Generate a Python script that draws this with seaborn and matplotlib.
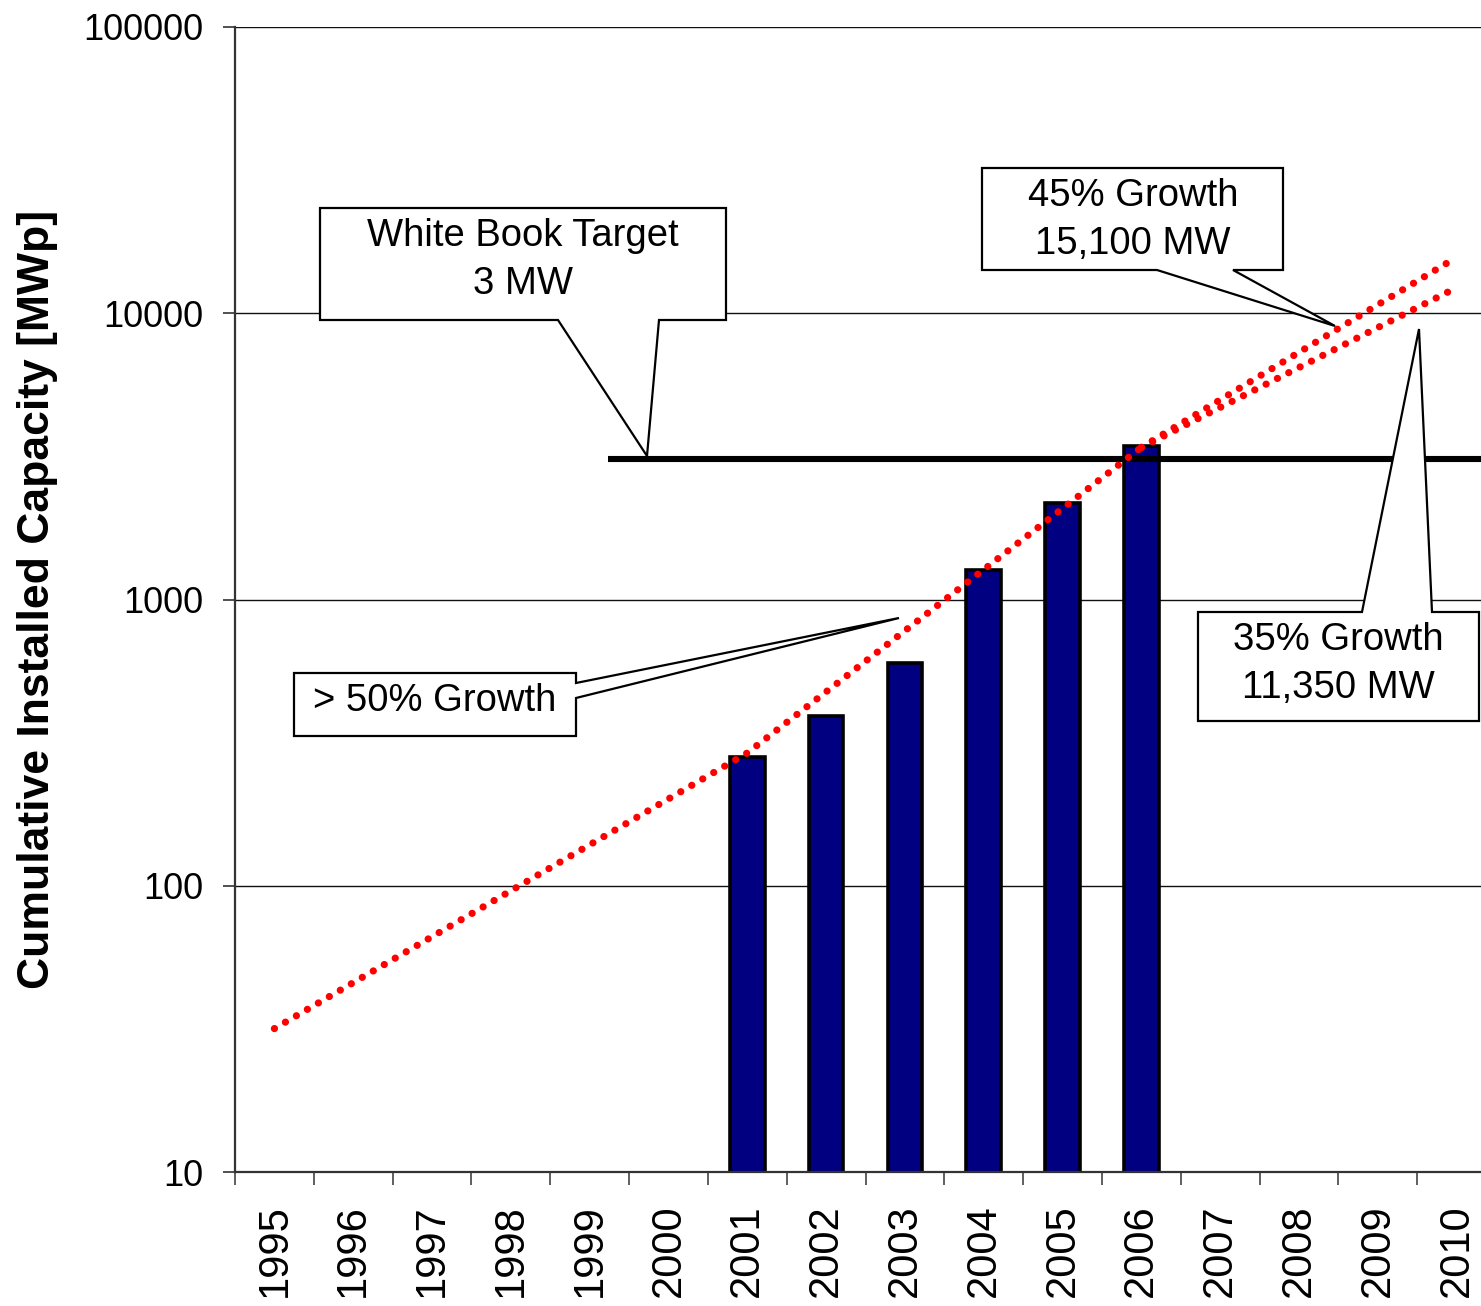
import numpy as np
import pandas as pd
import matplotlib
matplotlib.use("Agg")
import matplotlib.pyplot as plt
from matplotlib.patches import Polygon
from matplotlib.ticker import FixedLocator, NullLocator, FixedFormatter
import seaborn as sns

# ---------------- data ----------------
years = [str(y) for y in range(1995, 2011)]
bar_years = ["2001", "2002", "2003", "2004", "2005", "2006"]
bar_values = [281, 392, 600, 1267, 2170, 3435]

target_value = 3100          # White Book target line
target_start_year = 1999.23  # where the drawn target line starts

trend_years = [1995, 2001, 2006]          # "> 50% Growth" dotted line
trend_values = [31.7, 291, 3400]
g45_years = [2006, 2009.9]                # 45% growth scenario
g45_values = [3400, 15100]
g35_years = [2006, 2009.9]                # 35% growth scenario
g35_values = [3400, 11900]

y_ticks = [10, 100, 1000, 10000, 100000]
y_tick_labels = ["10", "100", "1000", "10000", "100000"]
y_label = "Cumulative Installed Capacity [MWp]"

callout_texts = ["White Book Target\n3 MW", "45% Growth\n15,100 MW",
                 "35% Growth\n11,350 MW", "> 50% Growth"]

# ---------------- style ----------------
sns.set_theme(style="white")
plt.rcParams["font.family"] = ["Liberation Sans", "DejaVu Sans"]
plt.rcParams["text.color"] = "black"
plt.rcParams["axes.labelcolor"] = "black"
plt.rcParams["xtick.color"] = "black"
plt.rcParams["ytick.color"] = "black"

W, H = 1481, 1306
fig = plt.figure(figsize=(W / 100, H / 100), dpi=100)
ax = fig.add_axes([235 / W, 1 - 1172 / H, 1261 / W, 1145 / H])

navy = "#000080"
df = pd.DataFrame({"year": bar_years, "value": bar_values})
ax.set_yscale("log")
sns.barplot(data=df, x="year", y="value", order=years, color=navy,
            saturation=1, width=0.44, edgecolor="black", linewidth=2.6,
            ax=ax, zorder=2)

ax.set_xlim(-0.5, len(years) - 0.5)
ax.set_ylim(10, 100000)

# y axis
ax.yaxis.set_major_locator(FixedLocator(y_ticks))
ax.yaxis.set_major_formatter(FixedFormatter(y_tick_labels))
ax.yaxis.set_minor_locator(NullLocator())
ax.tick_params(axis="y", which="major", direction="out", length=8.6,
               width=1.2, color="#333333", labelsize=26, pad=14,
               left=True, labelcolor="black")
ax.yaxis.grid(True, which="major", color="#111111", linewidth=1.0, zorder=0)
ax.set_axisbelow(True)

# x axis
ax.set_xticks(range(len(years)))
ax.set_xticklabels(years, rotation=90, fontsize=30)
ax.xaxis.set_minor_locator(FixedLocator(np.arange(-0.5, len(years), 1.0)))
ax.tick_params(axis="x", which="major", length=0, pad=23, labelcolor="black")
ax.tick_params(axis="x", which="minor", direction="out", length=9.4,
               width=1.2, color="#444444", bottom=True)
ax.set_xlabel("")
ax.set_ylabel("")

for s in ["top", "right"]:
    ax.spines[s].set_visible(False)
for s in ["left", "bottom"]:
    ax.spines[s].set_color("#333333")
    ax.spines[s].set_linewidth(1.6)

fig.text(38 / W, 1 - 599 / H, y_label, rotation=90, ha="center",
         va="center", fontsize=32, fontweight="bold", color="black")

# target line
def ypos(year):
    return year - 1995

ax.hlines(target_value, ypos(target_start_year), len(years) - 0.5,
          color="black", linewidth=4.4, zorder=3)

# growth lines (dotted red)
dot = dict(color="#FF0000", linewidth=5.2, linestyle=(0, (0.01, 1.75)),
           dash_capstyle="round", zorder=6)
ax.plot([ypos(y) for y in trend_years], trend_values, **dot)
ax.plot([ypos(y) for y in g45_years], g45_values, **dot)
ax.plot([ypos(y) for y in g35_years], g35_values, **dot)

# callouts (layout positions in pixels)
def P(pts):
    return [(x / W, 1 - y / H) for x, y in pts]

callouts = [
    ([(320, 208), (726, 208), (726, 320), (659, 320), (647, 456),
      (558, 320), (320, 320)], (523, 260)),
    ([(982, 168), (1283, 168), (1283, 270), (1233, 270), (1335, 326),
      (1157, 270), (982, 270)], (1133, 220)),
    ([(1198, 612), (1362, 612), (1419, 329), (1432, 612), (1479, 612),
      (1479, 721), (1198, 721)], (1338, 664)),
    ([(294, 673), (576, 673), (576, 683), (899, 618), (576, 698),
      (576, 736), (294, 736)], (435, 701)),
]
for (poly, (tx, ty)), txt in zip(callouts, callout_texts):
    patch = Polygon(P(poly), closed=True, facecolor="white",
                    edgecolor="black", linewidth=1.6,
                    transform=fig.transFigure, clip_on=False, zorder=4)
    ax.add_patch(patch)
    ax.text(tx / W, 1 - ty / H, txt, transform=fig.transFigure,
            ha="center", va="center", fontsize=27.5, linespacing=1.45,
            color="black", zorder=5)

fig.savefig("out.png", dpi=100)
